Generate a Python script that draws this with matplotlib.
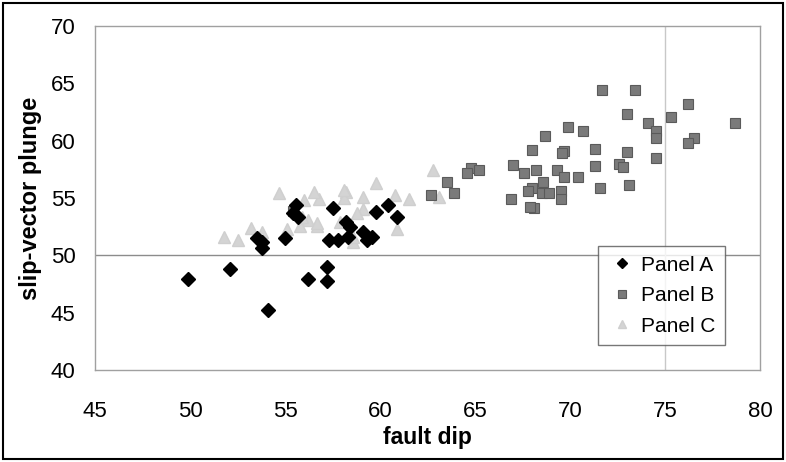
import numpy as np
import matplotlib
matplotlib.use('Agg')
import matplotlib.pyplot as plt
from matplotlib.patches import Rectangle

plt.rcParams['font.family'] = ['Liberation Sans', 'DejaVu Sans']

# Panel A (black diamonds)
a_dip = [49.9, 52.1, 54.1, 53.8, 53.5, 53.8, 55.0, 55.6, 55.4, 55.7, 57.5, 57.3,
         57.8, 58.3, 58.4, 59.1, 59.3, 59.6, 59.8, 60.4, 60.9, 57.2, 57.2, 56.2, 58.2]
a_plunge = [47.9, 48.8, 45.2, 50.6, 51.5, 51.2, 51.5, 54.4, 53.7, 53.3, 54.1, 51.3,
            51.3, 51.6, 52.5, 52.0, 51.3, 51.6, 53.8, 54.4, 53.3, 49.0, 47.8, 47.9, 52.9]

# Panel B (grey squares)
b_dip = [71.7, 73.4, 73.0, 76.2, 75.3, 78.7, 74.1, 74.5, 74.5, 76.5, 76.2, 74.5,
         69.9, 70.7, 68.7, 71.3, 73.0, 69.7, 69.6, 68.0, 67.0, 71.3, 72.6, 72.8,
         68.2, 67.6, 69.3, 69.7, 70.4, 68.6, 68.0, 67.8, 68.5, 68.9, 69.5, 69.5,
         71.6, 73.1, 66.9, 68.1, 64.8, 65.2, 64.6, 63.5, 63.9, 62.7, 55.4, 67.9]
b_plunge = [64.4, 64.4, 62.3, 63.2, 62.1, 61.5, 61.5, 60.8, 60.2, 60.2, 59.8, 58.5,
            61.2, 60.8, 60.4, 59.3, 59.0, 59.1, 58.9, 59.2, 57.9, 57.8, 58.0, 57.7,
            57.4, 57.2, 57.4, 56.8, 56.8, 56.4, 55.9, 55.6, 55.4, 55.4, 55.6, 54.9,
            55.9, 56.1, 54.9, 54.1, 57.6, 57.4, 57.2, 56.4, 55.4, 55.3, 53.9, 54.2]

# Panel C (light grey triangles)
c_dip = [62.8, 59.8, 61.5, 60.8, 59.1, 58.2, 58.1, 56.8, 56.5, 56.0, 54.7, 56.2,
         56.7, 55.8, 55.1, 53.2, 53.8, 51.8, 52.5, 60.9, 58.6, 58.6, 57.9, 59.1,
         58.8, 58.1, 63.1, 56.7, 55.9]
c_plunge = [57.4, 56.3, 54.9, 55.3, 55.1, 55.5, 55.0, 54.9, 55.5, 54.8, 55.4, 53.1,
            52.6, 52.6, 52.3, 52.4, 52.0, 51.6, 51.3, 52.3, 51.2, 51.6, 52.9, 54.0,
            53.7, 55.7, 55.1, 52.8, 53.3]

fig = plt.figure(figsize=(7.86, 4.62), dpi=100)
ax = fig.add_axes([95 / 786, 1 - 370 / 462, 665 / 786, 344 / 462])

# faint reference lines seen in the original
ax.axhline(50, color='#8c8c8c', lw=1.0, zorder=0)
ax.axvline(75, color='#c8c8c8', lw=1.0, zorder=0)

ax.plot(c_dip, c_plunge, linestyle='None', marker='^', ms=8, color='#d4d4d4',
        markeredgecolor='#cfcfcf', label='Panel C', zorder=2)
ax.plot(b_dip, b_plunge, linestyle='None', marker='s', ms=7.5, color='#7a7a7a',
        markeredgecolor='#5a5a5a', markeredgewidth=0.8, label='Panel B', zorder=3)
ax.plot(a_dip, a_plunge, linestyle='None', marker='D', ms=7.5, color='black',
        label='Panel A', zorder=4)

ax.set_xlim(45, 80)
ax.set_ylim(40, 70)
ax.set_xticks(range(45, 81, 5))
ax.set_yticks(range(40, 71, 5))
ax.tick_params(axis='both', length=0, labelsize=16)
ax.tick_params(axis='x', pad=22)
ax.tick_params(axis='y', pad=14)
for s in ax.spines.values():
    s.set_color('#a0a0a0')
    s.set_linewidth(1.0)

ax.set_xlabel('fault dip', fontsize=16.5, fontweight='bold', labelpad=3)
ax.set_ylabel('slip-vector plunge', fontsize=17, fontweight='bold', labelpad=6)

handles, labels = ax.get_legend_handles_labels()
order = [2, 1, 0]
leg = ax.legend([handles[i] for i in order], [labels[i] for i in order],
                loc='lower right', bbox_to_anchor=(0.947, 0.073), borderaxespad=0,
                fontsize=15, frameon=True, fancybox=False, handletextpad=0.2,
                handlelength=1.4, labelspacing=0.55, borderpad=0.45, markerscale=0.7)
leg.get_frame().set_edgecolor('#555555')
leg.get_frame().set_linewidth(1.0)

fig.patches.append(Rectangle((3 / 786, 3 / 462), 780 / 786, 456 / 462, transform=fig.transFigure,
                             fill=False, edgecolor='black', linewidth=1.5))

fig.savefig('out.png', dpi=100)
